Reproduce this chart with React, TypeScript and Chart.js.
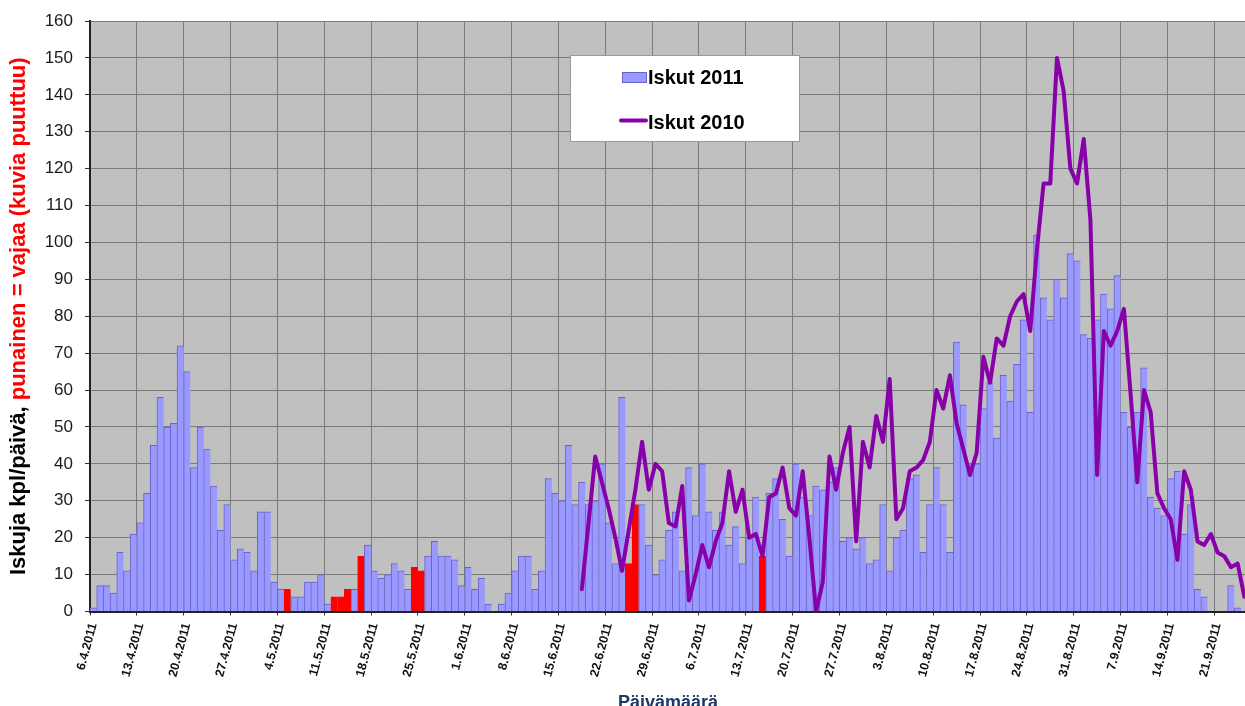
import React, { useEffect, useRef } from 'react';
import { Chart, registerables } from 'chart.js';

Chart.register(...registerables);

// ---- data ----
const firstDay = { year: 2011, month: 4, day: 6 };
const dayCount = 173;

const tickLabels = [
  '6.4.2011', '13.4.2011', '20.4.2011', '27.4.2011', '4.5.2011', '11.5.2011', '18.5.2011',
  '25.5.2011', '1.6.2011', '8.6.2011', '15.6.2011', '22.6.2011', '29.6.2011', '6.7.2011',
  '13.7.2011', '20.7.2011', '27.7.2011', '3.8.2011', '10.8.2011', '17.8.2011', '24.8.2011',
  '31.8.2011', '7.9.2011', '14.9.2011', '21.9.2011',
];

const iskut2011 = [
  1, 7, 7, 5, 16, 11, 21, 24, 32, 45, 58, 50, 51, 72, 65, 39, 50, 44, 34, 22,
  29, 14, 17, 16, 11, 27, 27, 8, 6, 6, 4, 4, 8, 8, 10, 2, 4, 4, 6, 6,
  15, 18, 11, 9, 10, 13, 11, 6, 12, 11, 15, 19, 15, 15, 14, 7, 12, 6, 9, 2,
  0, 2, 5, 11, 15, 15, 6, 11, 36, 32, 30, 45, 29, 35, 29, 30, 40, 24, 13, 58,
  13, 29, 29, 18, 10, 14, 22, 27, 11, 39, 26, 40, 27, 22, 27, 18, 23, 13, 20, 31,
  15, 32, 36, 25, 15, 40, 31, 26, 34, 33, 35, 39, 19, 20, 17, 20, 13, 14, 29, 11,
  20, 22, 36, 37, 16, 29, 39, 29, 16, 73, 56, 40, 40, 55, 62, 47, 64, 57, 67, 79,
  54, 102, 85, 79, 90, 85, 97, 95, 75, 74, 79, 86, 82, 91, 54, 50, 54, 66, 31, 28,
  26, 36, 38, 21, 29, 6, 4, 0, 0, 0, 7, 1, 0,
];

// days with missing images (red bars)
const incompleteDays = [29, 36, 37, 38, 40, 48, 49, 80, 81, 100];

// 2010 line starts at day index 73 (18.6.)
const iskut2010Start = 73;
const iskut2010Values = [
  6, 24, 42, 35, 28, 20, 11, 22, 33, 46, 33, 40, 38, 24, 23, 34, 3, 10, 18, 12,
  19, 24, 38, 27, 33, 20, 21, 15, 31, 32, 39, 28, 26, 38, 20, 0, 8, 42, 33, 43,
  50, 19, 46, 39, 53, 46, 63, 25, 28, 38, 39, 41, 46, 60, 55, 64, 51, 44, 37, 43,
  69, 62, 74, 72, 80, 84, 86, 76, 98, 116, 116, 150, 141, 120, 116, 128, 106, 37, 76, 72,
  76, 82, 59, 35, 60, 54, 32, 28, 25, 14, 38, 33, 19, 18, 21, 16, 15, 12, 13, 4,
];

const yTitleBlack = 'Iskuja kpl/päivä, ';
const yTitleRed = 'punainen = vajaa (kuvia puuttuu)';
const xTitle = 'Päivämäärä';
const legend2011 = 'Iskut 2011';
const legend2010 = 'Iskut 2010';

// ---- styles ----
const BAR_FILL = '#9999FF';
const BAR_EDGE = '#6a62c8';
const RED = '#FF0000';
const LINE = '#8800AA';
const GRID = '#7a7a7a';
const PLOT_BG = '#C0C0C0';
const FONT = 'Arial, "Liberation Sans", sans-serif';

const categories: string[] = Array.from({ length: dayCount }, (_, i) => {
  const d = new Date(firstDay.year, firstDay.month - 1, firstDay.day + i);
  return `${d.getDate()}.${d.getMonth() + 1}.${d.getFullYear()}`;
});

const line2010: (number | null)[] = categories.map((_, i) => {
  const k = i - iskut2010Start;
  return k >= 0 && k < iskut2010Values.length ? iskut2010Values[k] : null;
});

const barFills = iskut2011.map((_, i) => (incompleteDays.includes(i) ? RED : BAR_FILL));
const barEdges = iskut2011.map((_, i) => (incompleteDays.includes(i) ? RED : BAR_EDGE));

const decor = {
  id: 'decor',
  beforeDraw(chart: any) {
    const { ctx, chartArea: a } = chart;
    ctx.save();
    ctx.fillStyle = '#ffffff';
    ctx.fillRect(0, 0, chart.width, chart.height);
    ctx.fillStyle = PLOT_BG;
    ctx.fillRect(a.left, a.top, a.right - a.left, a.bottom - a.top);
    ctx.restore();
  },
  afterDraw(chart: any) {
    const { ctx, chartArea: a } = chart;
    ctx.save();
    // y title, two colours
    ctx.translate(19, (a.top + a.bottom) / 2);
    ctx.rotate(-Math.PI / 2);
    ctx.font = `bold 22px ${FONT}`;
    ctx.textBaseline = 'middle';
    ctx.textAlign = 'left';
    const w1 = ctx.measureText(yTitleBlack).width;
    const w2 = ctx.measureText(yTitleRed).width;
    const x0 = -(w1 + w2) / 2;
    ctx.fillStyle = '#000000';
    ctx.fillText(yTitleBlack, x0, 0);
    ctx.fillStyle = RED;
    ctx.fillText(yTitleRed, x0 + w1, 0);
    ctx.restore();

    // x title
    ctx.save();
    ctx.font = `bold 18px ${FONT}`;
    ctx.fillStyle = '#1F3864';
    ctx.textAlign = 'center';
    ctx.textBaseline = 'alphabetic';
    ctx.fillText(xTitle, 668, 708);
    ctx.restore();

    // legend
    ctx.save();
    ctx.fillStyle = '#ffffff';
    ctx.fillRect(570, 55, 230, 87);
    ctx.strokeStyle = '#9a9a9a';
    ctx.lineWidth = 1;
    ctx.strokeRect(570.5, 55.5, 229, 86);
    ctx.fillStyle = BAR_FILL;
    ctx.fillRect(622, 72, 25, 11);
    ctx.strokeStyle = BAR_EDGE;
    ctx.strokeRect(622.5, 72.5, 24, 10);
    ctx.strokeStyle = LINE;
    ctx.lineWidth = 4;
    ctx.lineCap = 'round';
    ctx.beginPath();
    ctx.moveTo(621, 120.5);
    ctx.lineTo(646, 120.5);
    ctx.stroke();
    ctx.font = `bold 20px ${FONT}`;
    ctx.fillStyle = '#000000';
    ctx.textAlign = 'left';
    ctx.textBaseline = 'alphabetic';
    ctx.fillText(legend2011, 648, 83.5);
    ctx.fillText(legend2010, 648, 128.5);
    ctx.restore();
  },
};

export default function App() {
  const ref = useRef<HTMLCanvasElement | null>(null);

  useEffect(() => {
    if (!ref.current) return;
    const chart = new Chart(ref.current, {
      type: 'bar',
      data: {
        labels: categories,
        datasets: [
          {
            type: 'bar',
            label: legend2011,
            data: iskut2011,
            backgroundColor: barFills,
            borderColor: barEdges,
            borderWidth: { top: 1, left: 1, right: 0, bottom: 0 },
            barPercentage: 1,
            categoryPercentage: 1,
            order: 2,
          } as any,
          {
            type: 'line',
            label: legend2010,
            data: line2010,
            borderColor: LINE,
            backgroundColor: LINE,
            borderWidth: 4,
            pointRadius: 0,
            tension: 0,
            borderJoinStyle: 'round',
            borderCapStyle: 'round',
            spanGaps: false,
            order: 1,
          } as any,
        ],
      },
      options: {
        responsive: false,
        animation: false,
        devicePixelRatio: 1,
        layout: { padding: { top: 21, right: 2.3, bottom: 0, left: 0 } },
        plugins: {
          legend: { display: false },
          tooltip: { enabled: false },
          title: { display: false },
        },
        scales: {
          x: {
            type: 'category',
            offset: true,
            grid: {
              offset: true,
              color: (c: any) => (c.index % 7 === 0 ? GRID : 'rgba(0,0,0,0)'),
              tickColor: (c: any) => (c.index % 7 === 0 ? '#333333' : 'rgba(0,0,0,0)'),
              tickLength: 4,
              lineWidth: 1,
            },
            border: { color: '#222222', width: 2 },
            ticks: {
              autoSkip: false,
              minRotation: 75,
              maxRotation: 75,
              padding: 6,
              color: '#111111',
              font: { family: FONT, size: 12.5, weight: 'bold' },
              callback: (_v: any, idx: number) => (idx % 7 === 0 ? tickLabels[idx / 7] ?? '' : ''),
            },
            afterFit: (s: any) => {
              s.height = 94.5;
              s.paddingLeft = 0;
              s.paddingRight = 0;
            },
          },
          y: {
            min: 0,
            max: 160,
            ticks: {
              stepSize: 10,
              padding: 12,
              color: '#1a1a1a',
              font: { family: FONT, size: 17 },
            },
            grid: { color: GRID, tickColor: '#333333', tickLength: 5, lineWidth: 1 },
            border: { color: '#222222', width: 2 },
            afterFit: (s: any) => {
              s.width = 90;
              s.paddingTop = 0;
              s.paddingBottom = 0;
            },
          },
        },
      } as any,
      plugins: [decor],
    });
    return () => chart.destroy();
  }, []);

  return (
    <div style={{ position: 'fixed', left: 0, top: 0, width: 1245, height: 706, overflow: 'hidden', background: '#fff' }}>
      <canvas ref={ref} width={1250} height={706} style={{ display: 'block' }} />
    </div>
  );
}
